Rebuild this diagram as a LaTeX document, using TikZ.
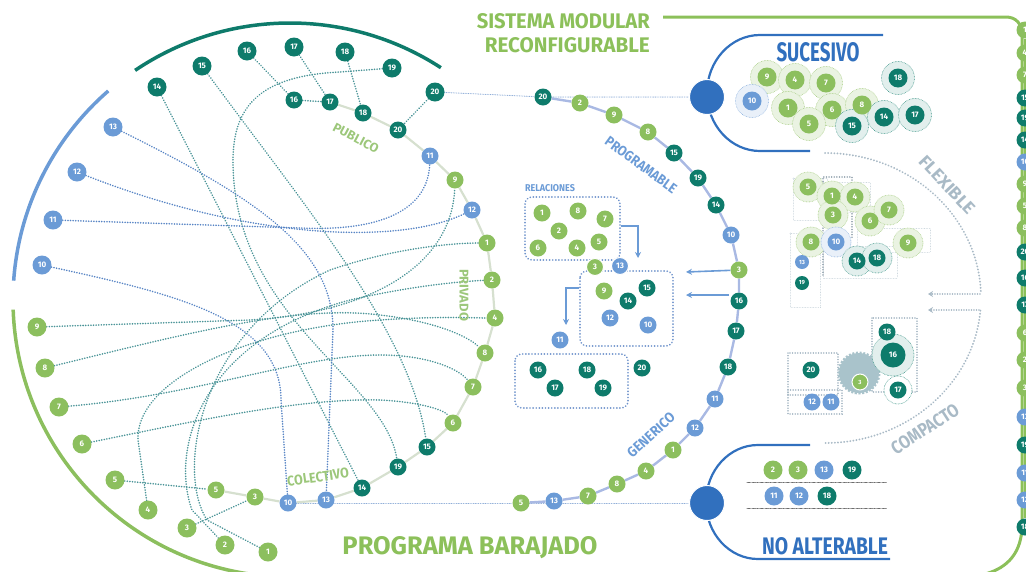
\documentclass[tikz,border=0pt]{standalone}
\usepackage{fontspec}
\setmainfont{Fira Sans}
\usetikzlibrary{arrows.meta}
\pgfdeclarelayer{bg}
\pgfsetlayers{bg,main}
\definecolor{cg}{HTML}{8CBF5E}
\definecolor{ct}{HTML}{0E7B6B}
\definecolor{cb}{HTML}{6B9BD6}
\definecolor{cdb}{HTML}{3170BE}
\definecolor{ctitle}{HTML}{8CC05A}
\definecolor{dotT}{HTML}{4A9497}
\definecolor{dotB}{HTML}{5784C4}
\definecolor{chainL}{HTML}{D6E0CF}
\definecolor{chainM}{HTML}{A9B9E3}
\definecolor{cgrey}{HTML}{A9BAC6}
\definecolor{boxdot}{HTML}{6F93CB}
\definecolor{lgreen}{HTML}{9CC77A}
\definecolor{gear}{HTML}{A9C3CB}
\newcommand\numfnt{\fontsize{8}{8}\selectfont\bfseries}
\tikzset{
 nd/.style={circle,inner sep=0pt,minimum size=19pt,text=white,font=\numfnt},
 gn/.style={nd,fill=cg},
 tn/.style={nd,fill=ct},
 bn/.style={nd,fill=cb},
 small/.style={minimum size=17pt},
 tline/.style={draw=dotT,line width=1.7pt,dash pattern=on 0.1pt off 2.5pt,line cap=round},
 bline/.style={draw=dotB,line width=1.7pt,dash pattern=on 0.1pt off 2.5pt,line cap=round},
 hline/.style={draw=dotB!75,line width=1pt,dash pattern=on 0.1pt off 1.6pt,line cap=round},
 lchain/.style={draw=chainL,line width=2.2pt},
 mchain/.style={draw=chainM,line width=2.4pt},
 rbox/.style={draw=boxdot,rounded corners=7pt,line width=1.8pt,dash pattern=on 0.1pt off 3pt,line cap=round},
 lbox/.style={draw=cgrey!70,line width=0.6pt,dash pattern=on 0.1pt off 1.5pt,line cap=round},
 dbox/.style={draw=cgrey!90!black,line width=1.5pt,dash pattern=on 0.1pt off 2.5pt,line cap=round},
 halog/.style={circle,inner sep=0pt,minimum size=#1,fill=cg!18,draw=cg!70,line width=0.8pt,dash pattern=on 0.1pt off 1.4pt,line cap=round},
 halot/.style={circle,inner sep=0pt,minimum size=#1,fill=ct!12,draw=ct!70,line width=0.8pt,dash pattern=on 0.1pt off 1.4pt,line cap=round},
 halob/.style={circle,inner sep=0pt,minimum size=#1,fill=cb!15,draw=cb!70,line width=0.8pt,dash pattern=on 0.1pt off 1.4pt,line cap=round},
 arr/.style={-{Stealth[length=6pt,width=6pt]},draw=cb,line width=1.6pt},
 farr/.style={-{Stealth[length=5pt,width=6pt]},draw=cgrey,line width=1.6pt,dash pattern=on 0.1pt off 2.4pt,line cap=round},
 ttl/.style={inner sep=0pt,font=\bfseries},
 bigdot/.style={circle,fill=cdb,minimum size=35pt,inner sep=0pt,draw=white,line width=1pt},
}
\begin{document}
\begin{tikzpicture}[x=1pt,y=-1pt]
\useasboundingbox (0,0) rectangle (1026,571);
\clip (0,0) rectangle (1026,571);

% big arcs left
\draw[line width=3.5pt,ct] (290,300) ++(236:277) arc[start angle=236,end angle=303,radius=277];
\draw[line width=3.5pt,cb] (290,300) ++(184:277) arc[start angle=184,end angle=229,radius=277];
\draw[line width=3.5pt,cg] (290,300) ++(178:277) arc[start angle=178,end angle=95,radius=277];

% frame right
\draw[line width=3pt,ctitle] (663,17) -- (1006,17) .. controls (1016,17) and (1022,24) .. (1022,34) -- (1022,525) .. controls (1022,552) and (1008,568) .. (985,574);

% titles
\node[ttl,text=ctitle,anchor=east] (t1) at (650,21) {\resizebox{173pt}{15pt}{SISTEMA MODULAR}};
\node[ttl,text=ctitle,anchor=east] (t2) at (650,45) {\resizebox{165pt}{15pt}{RECONFIGURABLE}};
\node[ttl,text=ctitle] (t3) at (470,548) {\resizebox{255pt}{18pt}{PROGRAMA BARAJADO}};
\node[ttl,text=cdb] (t4) at (818,52) {\resizebox{83pt}{19pt}{SUCESIVO}};
\node[ttl,text=cdb] (t5) at (825,546) {\resizebox{126pt}{17pt}{NO ALTERABLE}};
\node[ttl,text=lgreen,rotate=-28] (t6) at (356,138) {\resizebox{50pt}{9pt}{PUBLICO}};
\node[ttl,text=lgreen,rotate=-90] (t7) at (464,295) {\resizebox{52pt}{9pt}{PRIVADO}};
\node[ttl,text=lgreen,rotate=8] (t8) at (318,477) {\resizebox{62pt}{10pt}{COLECTIVO}};
\node[ttl,text=cb,rotate=-36] (t9) at (641,165) {\resizebox{85pt}{10pt}{PROGRAMABLE}};
\node[ttl,text=cb,rotate=42] (t10) at (651,435) {\resizebox{59pt}{10pt}{GENERICO}};
\node[ttl,text=cb] (t11) at (550,188) {\resizebox{50pt}{7pt}{RELACIONES}};
\node[ttl,text=cgrey,rotate=-47] (t12) at (947,185) {\resizebox{73pt}{12pt}{FLEXIBLE}};
\node[ttl,text=cgrey,rotate=33] (t13) at (925,429) {\resizebox{77pt}{13pt}{COMPACTO}};

% outer left nodes
\node[tn] (o14) at (157,87) {14};
\node[tn] (o15) at (202,66) {15};
\node[tn] (o16) at (247,51) {16};
\node[tn] (o17) at (294,47) {17};
\node[tn] (o18) at (345,52) {18};
\node[tn] (o19) at (392,68) {19};
\node[tn] (o20) at (435,92) {20};
\node[bn] (o13) at (113,127) {13};
\node[bn] (o12) at (77,172) {12};
\node[bn] (o11) at (53,220) {11};
\node[bn] (o10) at (42,265) {10};
\node[gn] (o9) at (37,327) {9};
\node[gn] (o8) at (45,368) {8};
\node[gn] (o7) at (59,407) {7};
\node[gn] (o6) at (82,444) {6};
\node[gn] (o5) at (115,480) {5};
\node[gn] (o4) at (148,510) {4};
\node[gn] (o3) at (187,528) {3};
\node[gn] (o2) at (225,545) {2};
\node[gn] (o1) at (268,552) {1};

% inner ring
\node[tn,small] (i16) at (294,100) {16};
\node[tn,small] (i17) at (330,102) {17};
\node[tn,small] (i18) at (363,113) {18};
\node[tn,small] (i20) at (398,130) {20};
\node[bn,small] (i11) at (430,156) {11};
\node[gn,small] (i9) at (455,180) {9};
\node[bn,small] (i12) at (472,210) {12};
\node[gn,small] (i1) at (487,243) {1};
\node[gn,small] (i2) at (492,280) {2};
\node[gn,small] (i4) at (495,318) {4};
\node[gn,small] (i8) at (485,353) {8};
\node[gn,small] (i7) at (473,387) {7};
\node[gn,small] (i6) at (453,423) {6};
\node[tn,small] (i15) at (427,447) {15};
\node[tn,small] (i19) at (398,467) {19};
\node[tn,small] (i14) at (362,488) {14};
\node[bn,small] (i13) at (326,500) {13};
\node[bn,small] (i10) at (288,503) {10};
\node[gn,small] (i3) at (255,497) {3};
\node[gn,small] (i5) at (216,490) {5};

% middle chain
\node[tn,small] (m20) at (543,97) {20};
\node[gn,small] (m2) at (580,103) {2};
\node[gn,small] (m9) at (614,115) {9};
\node[gn,small] (m8) at (648,132) {8};
\node[tn,small] (m15) at (674,153) {15};
\node[tn,small] (m19) at (698,178) {19};
\node[tn,small] (m14) at (716,205) {14};
\node[bn,small] (m10) at (731,235) {10};
\node[gn,small] (m3) at (739,270) {3};
\node[tn,small] (m16) at (739,301) {16};
\node[tn,small] (m17) at (736,331) {17};
\node[tn,small] (m18) at (728,367) {18};
\node[bn,small] (m11) at (715,399) {11};
\node[bn,small] (m12) at (695,428) {12};
\node[gn,small] (m1) at (673,450) {1};
\node[gn,small] (m4) at (646,471) {4};
\node[gn,small] (m8b) at (617,484) {8};
\node[gn,small] (m7) at (588,496) {7};
\node[bn,small] (m13) at (554,501) {13};
\node[gn,small] (m5) at (521,503) {5};

% relation boxes
\draw[rbox] (525,197) rectangle (620,260);
\draw[rbox] (580,271) rectangle (673,346);
\draw[rbox] (515,354) rectangle (628,408);
\node[gn,small] (r1) at (542,213) {1};
\node[gn,small] (r8) at (578,211) {8};
\node[gn,small] (r7) at (605,219) {7};
\node[gn,small] (r2) at (559,231) {2};
\node[gn,small] (r6) at (538,248) {6};
\node[gn,small] (r4) at (577,248) {4};
\node[gn,small] (r5) at (599,242) {5};
\node[gn,small,draw=white,line width=1pt] (r3) at (595,267) {3};
\node[bn,small,draw=white,line width=1pt] (r13) at (620,266) {13};
\node[gn,small] (q9) at (604,291) {9};
\node[tn,small] (q15) at (647,288) {15};
\node[tn,small] (q14) at (628,301) {14};
\node[bn,small] (q12) at (610,318) {12};
\node[bn,small] (q10) at (648,325) {10};
\node[bn,small] (q11) at (560,340) {11};
\node[tn,small] (p16) at (538,370) {16};
\node[tn,small] (p17) at (555,388) {17};
\node[tn,small] (p18) at (587,370) {18};
\node[tn,small] (p19) at (603,388) {19};
\node[tn,small] (p20) at (642,368) {20};
\coordinate (ra1) at (621,226);
\coordinate (ra2) at (638,258);
\coordinate (rb1) at (579,288);
\coordinate (rb2) at (566,325);
\coordinate (ma1) at (686,272);
\coordinate (mb0) at (729,295);
\coordinate (mb1) at (686,295);
\draw[arr] (ra1) -| (ra2);
\draw[arr] (rb1) -| (rb2);
\draw[arr] (m3) -- (ma1);
\draw[arr] (mb0) -- (mb1);

% big dots and brackets
\draw[cdb,line width=2.2pt] (883,35) -- (760,35) arc[start angle=270,end angle=90,x radius=53,y radius=58] -- (810,151);
\draw[cdb,line width=2.2pt] (810,445) -- (758,445) arc[start angle=270,end angle=90,x radius=52,y radius=57] -- (890,559);
\node[bigdot] (d1) at (707,97) {};
\node[bigdot] (d2) at (707,503) {};

% SUCESIVO cluster
\node[halog=33pt] (hs9) at (767,77) {};
\node[halog=33pt] (hs4) at (795,80) {};
\node[halog=33pt] (hs7) at (826,83) {};
\node[halob=33pt] (hs10) at (752,101) {};
\node[halog=33pt] (hs1) at (788,108) {};
\node[halog=33pt] (hs6) at (832,110) {};
\node[halog=33pt] (hs8) at (862,105) {};
\node[halog=33pt] (hs5) at (809,124) {};
\node[halot=33pt] (hs15) at (852,126) {};
\node[halot=33pt] (hs14) at (884,117) {};
\node[halot=33pt] (hs17) at (915,115) {};
\node[halot=33pt] (hs18) at (898,78) {};
\node[gn] (s9) at (767,77) {9};
\node[gn] (s4) at (795,80) {4};
\node[gn] (s7) at (826,83) {7};
\node[bn] (s10) at (752,101) {10};
\node[gn] (s1) at (788,108) {1};
\node[gn] (s6) at (832,110) {6};
\node[gn] (s8) at (862,105) {8};
\node[gn] (s5) at (809,124) {5};
\node[tn] (s15) at (852,126) {15};
\node[tn] (s14) at (884,117) {14};
\node[tn] (s17) at (915,115) {17};
\node[tn] (s18) at (898,78) {18};

% FLEXIBLE arc and cluster
\draw[cgrey,line width=2pt,dash pattern=on 0.1pt off 3pt,line cap=round] (825,298) ++(-90:156 and 145) arc[start angle=-90,end angle=-2,x radius=156,y radius=145];
\draw[cgrey,line width=2pt,dash pattern=on 0.1pt off 3pt,line cap=round] (825,298) ++(5:156 and 145) arc[start angle=5,end angle=90,x radius=156,y radius=145];
\coordinate (fa0) at (980,294);
\coordinate (fa1) at (928,294);
\coordinate (fb0) at (979,310);
\coordinate (fb1) at (928,310);
\draw[farr] (fa0) -- (fa1);
\draw[farr] (fb0) -- (fb1);

\draw[lbox] (793,178) rectangle (827,220);
\draw[lbox] (823,182) rectangle (870,212);
\draw[lbox] (857,228) rectangle (930,252);
\draw[lbox] (823,246) rectangle (897,278);
\draw[lbox] (790,233) rectangle (820,307);
\draw[dbox] (823,275) |- (852,177) -- (852,238);
\node[halog=30pt] (hf5) at (808,187) {};
\node[halog=30pt] (hf1) at (832,196) {};
\node[halog=30pt] (hf4) at (855,197) {};
\node[halog=30pt] (hf3) at (833,215) {};
\node[halog=30pt] (hf6) at (870,221) {};
\node[halog=30pt] (hf7) at (889,210) {};
\node[halog=30pt] (hf8) at (811,242) {};
\node[halob=30pt] (hf10) at (836,242) {};
\node[halot=30pt] (hf14) at (857,261) {};
\node[halot=30pt] (hf18) at (877,258) {};
\node[halog=30pt] (hf9) at (908,243) {};
\node[gn,small] (f5) at (808,187) {5};
\node[gn,small] (f1) at (832,196) {1};
\node[gn,small] (f4) at (855,197) {4};
\node[gn,small] (f3) at (833,215) {3};
\node[gn,small] (f6) at (870,221) {6};
\node[gn,small] (f7) at (889,210) {7};
\node[gn,small] (f8) at (811,242) {8};
\node[bn,small] (f10) at (836,242) {10};
\node[tn,small] (f14) at (857,261) {14};
\node[tn,small] (f18) at (877,258) {18};
\node[gn,small] (f9) at (908,243) {9};
\node[bn,minimum size=14pt,font=\fontsize{6}{6}\selectfont\bfseries] (f13) at (802,262) {13};
\node[tn,minimum size=14pt,font=\fontsize{6}{6}\selectfont\bfseries] (f19) at (802,283) {19};

% COMPACTO cluster
\draw[dbox,draw=cgrey] (788,353) rectangle (838,395);
\draw[dbox,draw=cgrey] (788,390) rectangle (842,414);
\draw[dbox,draw=cgrey] (872,318) rectangle (917,392);
\node[circle,fill=gear,draw=gear,line width=3pt,dash pattern=on 2pt off 1.6pt,minimum size=40pt,inner sep=0pt] (gr) at (859,373) {};
\node[tn,small] (c20) at (811,370) {20};
\node[bn,small] (c12) at (812,402) {12};
\node[bn,small] (c11) at (831,402) {11};
\node[gn,minimum size=16pt,draw=white,line width=1pt,font=\fontsize{6}{6}\selectfont\bfseries] (c3) at (860,382) {3};
\node[halot=42pt] (hc16) at (893,355) {};
\node[circle,inner sep=0pt,minimum size=28pt,draw=ct!70,line width=0.8pt,dash pattern=on 0.1pt off 1.4pt,line cap=round,fill=white] (hc17) at (898,390) {};
\node[tn,small] (c18) at (887,332) {18};
\node[tn,minimum size=25pt] (c16) at (893,355) {16};
\node[tn,small] (c17) at (898,390) {17};

% NO ALTERABLE rows
\node[gn] (n2) at (773,470) {2};
\node[gn] (n3) at (798,470) {3};
\node[bn] (n13) at (824,470) {13};
\node[tn] (n19) at (852,470) {19};
\node[bn] (n11) at (774,496) {11};
\node[bn] (n12) at (799,496) {12};
\node[tn] (n18) at (827,496) {18};
\draw[black!70,line width=0.8pt,dash pattern=on 0.1pt off 1.2pt,line cap=round] (747,482) -- (887,482);
\draw[black!70,line width=0.8pt,dash pattern=on 0.1pt off 1.2pt,line cap=round] (747,508) -- (887,508);

% right column
\node[gn,small] (k1) at (1025,30) {1};
\node[gn,small] (k2) at (1025,53) {4};
\node[gn,small] (k3) at (1025,75) {7};
\node[tn,small] (k4) at (1025,98) {15};
\node[tn,small] (k5) at (1025,118) {19};
\node[tn,small] (k6) at (1025,140) {14};
\node[bn,small] (k7) at (1025,162) {10};
\node[gn,small] (k8) at (1025,184) {9};
\node[gn,small] (k9) at (1025,206) {5};
\node[gn,small] (k10) at (1025,228) {8};
\node[tn,small] (k11) at (1025,252) {20};
\node[tn,small] (k12) at (1025,278) {16};
\node[tn,small] (k13) at (1025,305) {17};
\node[gn,small] (k14) at (1025,333) {6};
\node[gn,small] (k15) at (1025,360) {2};
\node[gn,small] (k16) at (1025,388) {3};
\node[bn,small] (k17) at (1025,417) {13};
\node[tn,small] (k18) at (1025,445) {19};
\node[bn,small] (k19) at (1025,473) {11};
\node[bn,small] (k20) at (1025,500) {12};
\node[tn,small] (k21) at (1025,527) {18};

\begin{pgfonlayer}{bg}
% connectors left
\draw[tline] (o14) -- (i14);
\draw[tline] (o15) .. controls (300,200) and (410,330) .. (i15);
\draw[tline] (o16) -- (i16);
\draw[tline] (o17) -- (i17);
\draw[tline] (o18) -- (i18);
\draw[tline] (o19) -- (340,72) .. controls (255,76) and (232,110) .. (233,165) .. controls (236,320) and (385,380) .. (i19);
\draw[tline] (o20) -- (i20);
\draw[tline] (i16) -- (i17);
\draw[bline] (o13) .. controls (260,200) and (333,250) .. (333,330) -- (i13);
\draw[bline] (o12) .. controls (250,240) and (400,245) .. (i12);
\draw[bline] (o11) -- (300,228) .. controls (390,232) and (428,205) .. (i11);
\draw[bline] (o10) .. controls (180,295) and (281,320) .. (281,400) -- (i10);
\draw[tline] (o9) -- (250,320) .. controls (380,312) and (452,260) .. (i9);
\draw[tline] (o8) .. controls (200,330) and (300,305) .. (380,315) .. controls (440,322) and (470,338) .. (i8);
\draw[tline] (o7) .. controls (200,395) and (300,355) .. (380,355) .. controls (430,355) and (460,370) .. (i7);
\draw[tline] (o6) .. controls (200,420) and (300,398) .. (380,400) .. controls (420,402) and (445,410) .. (i6);
\draw[tline] (o5) -- (i5);
\draw[tline] (o4) -- (138,440) .. controls (135,380) and (250,328) .. (380,320) .. controls (440,316) and (475,318) .. (i4);
\draw[tline] (o3) -- (i3);
\draw[tline] (o2) -- (192,510) .. controls (170,450) and (200,340) .. (350,300) .. controls (420,284) and (470,281) .. (i2);
\draw[tline] (o1) -- (207,520) .. controls (175,470) and (200,330) .. (330,270) .. controls (400,246) and (460,243) .. (i1);
\draw[hline] (o20) -- (m20) -- (d1);
\draw[hline] (i10) -- (m5) -- (d2);
\draw[lchain] (i17) -- (i18) -- (i20) -- (i11) -- (i9) -- (i12) -- (i1) -- (i2) -- (i4) -- (i8) -- (i7) -- (i6) -- (i15) -- (i19) -- (i14) -- (i13) -- (i10) -- (i3) -- (i5);
\draw[mchain] (m20) -- (m2) -- (m9) -- (m8) -- (m15) -- (m19) -- (m14) -- (m10) -- (m3) -- (m16) -- (m17) -- (m18) -- (m11) -- (m12) -- (m1) -- (m4) -- (m8b) -- (m7) -- (m13) -- (m5);
\draw[draw=ctitle,line width=1.5pt] (k1) -- (k21);
\end{pgfonlayer}
\end{tikzpicture}
\end{document}
